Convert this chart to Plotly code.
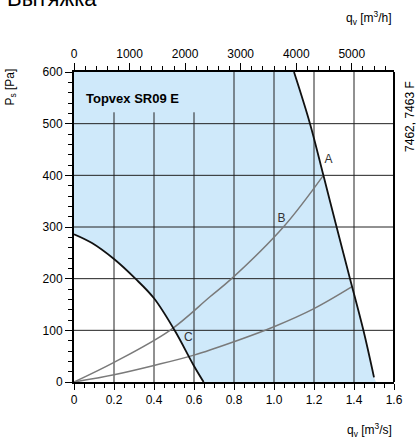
import plotly.graph_objects as go

# ---- data ----
# maximum-performance curve (right boundary of working area)
max_q = [1.10, 1.18, 1.247, 1.313, 1.38, 1.447, 1.50]
max_p = [600, 500, 400, 300, 200, 100, 9]
shade_end_q = 1.51

# minimum curve (left boundary, label C)
min_q = [0.0, 0.09, 0.2, 0.307, 0.4, 0.503, 0.6, 0.648]
min_p = [286, 269, 238, 200, 162, 100, 31, 0]

# system curves
sysA_q = [0.0, 0.2, 0.48, 0.68, 0.788, 1.047, 1.247]
sysA_p = [0, 38, 100, 165, 200, 300, 400]
sysL_q = [0.0, 0.2, 0.4, 0.6, 0.8, 1.0, 1.2, 1.388]
sysL_p = [0, 14, 32, 52, 78, 107, 142, 184]

# point labels
pt_labels = ["A", "B", "C"]
pt_q = [1.272, 1.038, 0.572]
pt_p = [429, 315, 86]

# axes
x_ticks = [0, 0.2, 0.4, 0.6, 0.8, 1.0, 1.2, 1.4, 1.6]
x_ticktext = ["0", "0.2", "0.4", "0.6", "0.8", "1.0", "1.2", "1.4", "1.6"]
y_ticks = [0, 100, 200, 300, 400, 500, 600]
top_ticks = [0, 1000, 2000, 3000, 4000, 5000]

XMAX, YMAX = 1.6, 600
TOPMAX = XMAX * 3600

SHADE = "#cfe9fa"
GRID = "#222222"
SYS = "#7a7a7a"
FONT = "Liberation Sans, Arial, sans-serif"

fig = go.Figure()

# shaded working area
sx = [0] + max_q + [shade_end_q] + list(reversed(min_q)) + [0]
sy = [YMAX] + max_p + [0] + list(reversed(min_p)) + [YMAX]
fig.add_trace(go.Scatter(x=sx, y=sy, fill="toself", fillcolor=SHADE,
                         mode="none", hoverinfo="skip", showlegend=False))

# grid lines drawn above the shading (title box region left open)
gx, gy = [], []
for t in x_ticks[1:-1]:
    top = 522 if t < 0.7 else YMAX
    gx += [t, t, None]
    gy += [0, top, None]
for t in y_ticks[1:-1]:
    gx += [0, XMAX, None]
    gy += [t, t, None]
fig.add_trace(go.Scatter(x=gx, y=gy, mode="lines", line=dict(color=GRID, width=1),
                         hoverinfo="skip", showlegend=False))

# system curves
for q, p in [(sysA_q, sysA_p), (sysL_q, sysL_p)]:
    fig.add_trace(go.Scatter(x=q, y=p, mode="lines", line=dict(color=SYS, width=1.5, shape="spline"),
                             showlegend=False, hoverinfo="skip"))

# boundary curves
fig.add_trace(go.Scatter(x=min_q, y=min_p, mode="lines", line=dict(color="#111", width=1.8, shape="spline"),
                         showlegend=False, hoverinfo="skip"))
fig.add_trace(go.Scatter(x=max_q, y=max_p, mode="lines", line=dict(color="#111", width=1.8, shape="spline"),
                         showlegend=False, hoverinfo="skip"))

# labels
fig.add_trace(go.Scatter(x=pt_q, y=pt_p, mode="text", text=pt_labels,
                         textfont=dict(family=FONT, size=12, color="#333"),
                         showlegend=False, hoverinfo="skip"))

# dummy trace for top axis
fig.add_trace(go.Scatter(x=[0, TOPMAX], y=[0, 0], xaxis="x2", mode="markers",
                         marker=dict(opacity=0), showlegend=False, hoverinfo="skip"))

fig.update_layout(
    width=416, height=439,
    margin=dict(l=74, r=22, t=72, b=57, pad=0),
    paper_bgcolor="white", plot_bgcolor="white",
    font=dict(family=FONT, size=12, color="black"),
    xaxis=dict(range=[0, XMAX], tickvals=x_ticks, ticktext=x_ticktext, showgrid=False,
               zeroline=False, showline=True, linecolor="black", linewidth=2, mirror=False,
               ticks="outside", ticklen=6, tickwidth=1, tickcolor="black",
               minor=dict(dtick=0.05, ticks="outside", ticklen=4, tickcolor="black", showgrid=False),
               tickfont=dict(size=12)),
    xaxis2=dict(range=[0, TOPMAX], overlaying="x", side="top", tickvals=top_ticks,
                showgrid=False, zeroline=False, showline=True, linecolor="black", linewidth=2,
                ticks="outside", ticklen=7, tickwidth=1, tickcolor="black",
                minor=dict(dtick=200, ticks="outside", ticklen=4, tickcolor="black", showgrid=False),
                tickfont=dict(size=12)),
    yaxis=dict(range=[0, YMAX], tickvals=y_ticks, showgrid=False, zeroline=False,
               showline=True, linecolor="black", linewidth=2, mirror=False,
               ticks="outside", ticklen=7, tickwidth=1, tickcolor="black",
               minor=dict(dtick=20, ticks="outside", ticklen=4, tickcolor="black", showgrid=False),
               tickfont=dict(size=12)),
    shapes=[
        dict(type="line", xref="paper", yref="paper", x0=1, x1=1, y0=0, y1=1,
             line=dict(color="black", width=2), layer="above"),
    ],
    annotations=[
        dict(text="Вытяжка", xref="paper", yref="paper", x=-0.215, y=1.19,
             xanchor="left", yanchor="bottom", showarrow=False,
             font=dict(size=22, color="black")),
        dict(text="q<sub>v</sub> [m<sup>3</sup>/h]", xref="paper", yref="paper", x=1.0, y=1.14,
             xanchor="right", yanchor="bottom", showarrow=False, font=dict(size=12)),
        dict(text="q<sub>v</sub> [m<sup>3</sup>/s]", xref="paper", yref="paper", x=1.0, y=-0.12,
             xanchor="right", yanchor="top", showarrow=False, font=dict(size=12)),
        dict(text="P<sub>s</sub> [Pa]", xref="paper", yref="paper", x=-0.2, y=0.95,
             xanchor="center", yanchor="middle", textangle=-90, showarrow=False, font=dict(size=12)),
        dict(text="7462, 7463 F", xref="paper", yref="paper", x=1.05, y=0.855,
             xanchor="center", yanchor="middle", textangle=-90, showarrow=False, font=dict(size=12)),
        dict(text="<b>Topvex SR09 E</b>", xref="paper", yref="paper", x=0.03, y=0.915,
             xanchor="left", yanchor="middle", showarrow=False, font=dict(size=13)),
    ],
)

fig.write_html("out.html", config={"displayModeBar": False},
               post_script="document.body.style.margin='0';document.body.style.overflow='hidden';")
